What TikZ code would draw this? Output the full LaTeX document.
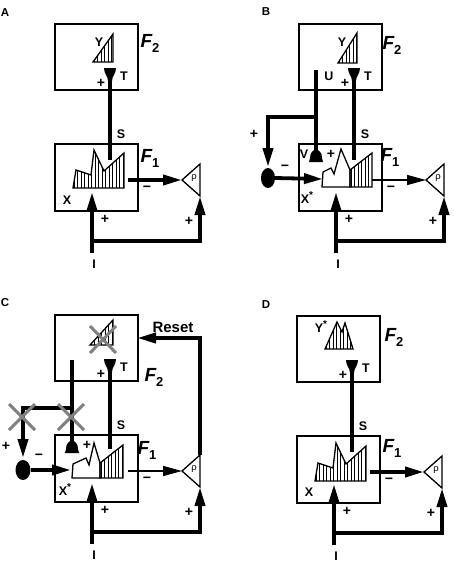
\documentclass[tikz,border=0pt]{standalone}
\usepackage{fontspec}
\setmainfont{Liberation Sans}
\usetikzlibrary{arrows.meta,shapes.geometric}
\newcommand{\Flab}[1]{{\fontsize{19}{19}\selectfont\bfseries\itshape F}\raisebox{-5pt}{\fontsize{13}{13}\selectfont\bfseries #1}}
\newcommand{\mns}{\char"2212}
\newcommand{\hatched}[4]{%
  \begin{scope}\clip #1;\foreach \hx in {#2,#3,...,#4}\draw[hatch] (\hx,0) -- (\hx,300);\end{scope}
  \draw[outl] #1;}
\tikzset{
  box/.style={draw,line width=1.5pt,inner sep=0pt,anchor=north west},
  heavy/.style={line width=3.8pt},
  thinline/.style={line width=1.5pt},
  arr/.style={-{Triangle[length=19pt,width=10pt]}},
  lab/.style={font=\fontsize{12.5}{12.5}\selectfont\bfseries,inner sep=0pt},
  sgn/.style={font=\fontsize{14}{14}\selectfont\bfseries,inner sep=0pt},
  plet/.style={font=\fontsize{11.5}{11.5}\selectfont\bfseries,inner sep=0pt},
  flab/.style={inner sep=0pt},
  hatch/.style={line width=0.7pt},
  outl/.style={line width=1.3pt,line join=miter},
  xcross/.style={draw=gray,line width=3pt},
  tcup/.pic={\fill (-6,-6) -- (6,-6) .. controls (6,0) and (2,2) .. (2,7) -- (-2,7) .. controls (-2,2) and (-6,0) .. (-6,-6) -- cycle;},
  dome/.pic={\fill (-7,6) -- (-6,2) .. controls (-6,-9) and (6,-9) .. (6,2) -- (7,6) -- cycle;}
}
% common parts of a panel: #1 name prefix, #2 output line style
\newcommand{\panelbase}[2]{%
  \node[box,minimum width=83pt,minimum height=66pt] (#1two) at (54,23) {};
  \node[box,minimum width=83pt,minimum height=67pt] (#1one) at (54,143) {};
  \node[lab] (#1S) at (121,134) {S};
  \node[lab] (#1T) at (124,76) {T};
  \node[sgn] (#1Tp) at (101,83) {+};
  \pic at (110,74) {tcup};
  \coordinate (#1tb) at (110,80);
  \coordinate (#1te) at (110,158);
  \draw[heavy] (#1tb) -- (#1te);
  \coordinate (#1rl) at (182,180);
  \coordinate (#1rt) at (200,164);
  \coordinate (#1rb) at (200,196);
  \draw[outl] (#1rl) -- (#1rt) -- (#1rb) -- cycle;
  \node[inner sep=0pt,font=\fontsize{9.5}{9.5}\selectfont] (#1rho) at (194,178) {ρ};
  \coordinate (#1out) at (128,180);
  \draw[#2,arr] (#1out) -- (#1rl);
  \node[sgn] (#1om) at (147,189) {\mns};
  \coordinate (#1I) at (92,253);
  \coordinate (#1Itip) at (92,192);
  \coordinate (#1Ij) at (92,241);
  \coordinate (#1Ir) at (200,241);
  \draw[heavy,arr] (#1I) -- (#1Itip);
  \draw[heavy,arr] (#1Ij) -- (#1Ir) -- (#1rb);
  \node[sgn] (#1Ip) at (105,219) {+};
  \node[sgn] (#1Rp) at (189,221) {+};
  \node[lab] (#1Il) at (94,264) {I};
}
\begin{document}
\begin{tikzpicture}[x=1pt,y=-1pt]
\useasboundingbox (0,0) rectangle (454,563);
\node[plet] (la) at (5,13) {A};
\node[plet] (lb) at (266,12) {B};
\node[plet] (lc) at (5,303) {C};
\node[plet] (ld) at (266,305) {D};

% ---------------- Panel A
\begin{scope}
\panelbase{a}{heavy}
\node[flab] (aF2) at (150,43) {\Flab{2}};
\node[flab] (aF1) at (150,158) {\Flab{1}};
\hatched{(93,62) -- (113,34) -- (113,62) -- cycle}{94}{97.5}{113}
\node[lab] (aY) at (99,42) {Y};
\hatched{(73,188) -- (76,170) -- (91,175) -- (94,150) -- (104,171) -- (124,153) -- (124,188) -- cycle}{74}{77.5}{124}
\draw[heavy] (atb) -- (110,160);
\node[lab] (aX) at (67,200) {X};
\end{scope}

% ---------------- Panel B
\begin{scope}[shift={(244,0)}]
\panelbase{b}{thinline}
\node[flab] (bF2) at (148,45) {\Flab{2}};
\node[flab] (bF1) at (146,157) {\Flab{1}};
\hatched{(94,63) -- (113,33) -- (113,63) -- cycle}{95}{98.5}{113}
\node[lab] (bY) at (98,42) {Y};
\draw[outl,fill=white] (78,187) -- (79,172) -- (87,168) -- (90,174) -- (97,149) -- (106,170) -- (106,187) -- cycle;
\hatched{(106,187) -- (106,170) -- (128,153) -- (128,187) -- cycle}{107}{110.5}{128}
\draw[heavy] (btb) -- (btb |- 0,160);
\coordinate (bUt) at (72,70);
\coordinate (bUj) at (72,117);
\coordinate (bUe) at (72,150);
\coordinate (bL) at (24,117);
\coordinate (bLt) at (24,167);
\draw[heavy] (bUt) -- (bUe);
\pic at (72,156) {dome};
\draw[heavy,arr] (bUj) -- (bL) -- (bLt);
\node[fill,ellipse,minimum width=14pt,minimum height=20pt,inner sep=0pt] (bE) at (24,178) {};
\coordinate (bEt) at (79,179);
\draw[heavy,arr] (bE.east) -- (bEt);
\node[lab] (bU) at (85,76) {U};
\node[lab] (bV) at (60,154) {V};
\node[sgn] (bVp) at (87,154) {+};
\node[sgn] (bLp) at (10,134) {+};
\node[sgn] (bEm) at (41,168) {\mns};
\node[lab] (bX) at (63,198) {X\raisebox{5pt}{\fontsize{10}{10}\selectfont *}};
\end{scope}

% ---------------- Panel C
\begin{scope}[shift={(0,291)}]
\panelbase{c}{thinline}
\node[flab] (cF2) at (154,86) {\Flab{2}};
\node[flab] (cF1) at (147,159) {\Flab{1}};
\hatched{(90,54) -- (113,29) -- (113,54) -- cycle}{91}{94.5}{113}
\draw[xcross] (90,35) -- (116,62);
\draw[xcross] (90,62) -- (116,35);
\draw[outl,fill=white] (72,187) -- (73,173) -- (86,167) -- (89,174) -- (94,152) -- (100,172) -- (100,187) -- cycle;
\hatched{(100,187) -- (100,172) -- (123,154) -- (123,187) -- cycle}{101}{104.5}{123}
\coordinate (cUt) at (72,69);
\coordinate (cUj) at (72,117);
\coordinate (cUe) at (72,150);
\coordinate (cL) at (23,117);
\coordinate (cLt) at (23,167);
\draw[heavy] (cUt) -- (cUe);
\pic at (72,156) {dome};
\draw[heavy,arr] (cUj) -- (cL) -- (cLt);
\draw[xcross] (9,113) -- (35,139);
\draw[xcross] (9,139) -- (35,113);
\draw[xcross] (58,113) -- (84,139);
\draw[xcross] (58,139) -- (84,113);
\node[fill,ellipse,minimum width=15pt,minimum height=20pt,inner sep=0pt] (cE) at (23,179) {};
\coordinate (cEt) at (71,179);
\draw[heavy,arr] (cE.east) -- (cEt);
\node[sgn] (cVp) at (87,154) {+};
\node[sgn] (cLp) at (6,155) {+};
\node[sgn] (cEm) at (39,166) {\mns};
\node[lab] (cX) at (65,199) {X\raisebox{5pt}{\fontsize{10}{10}\selectfont *}};
\coordinate (cRc) at (200,47);
\coordinate (cRe) at (137,47);
\draw[heavy,arr] (crt) -- (cRc) -- (cRe);
\node[font=\fontsize{15}{15}\selectfont\bfseries,inner sep=0pt] (cReset) at (173,36) {Reset};
\end{scope}

% ---------------- Panel D
\begin{scope}[shift={(242,292)}]
\panelbase{d}{heavy}
\node[flab] (dF2) at (152,45) {\Flab{2}};
\node[flab] (dF1) at (150,156) {\Flab{1}};
\hatched{(83,57) -- (95,30) -- (100,40) -- (103,31) -- (111,57) -- cycle}{84}{87.5}{111}
\node[lab] (dY) at (79,35) {Y\raisebox{5pt}{\fontsize{10}{10}\selectfont *}};
\hatched{(73,189) -- (76,171) -- (91,176) -- (94,151) -- (104,172) -- (124,154) -- (124,189) -- cycle}{74}{77.5}{124}
\draw[heavy] (dtb) -- (110,160);
\node[lab] (dX) at (67,200) {X};
\end{scope}
\end{tikzpicture}
\end{document}
